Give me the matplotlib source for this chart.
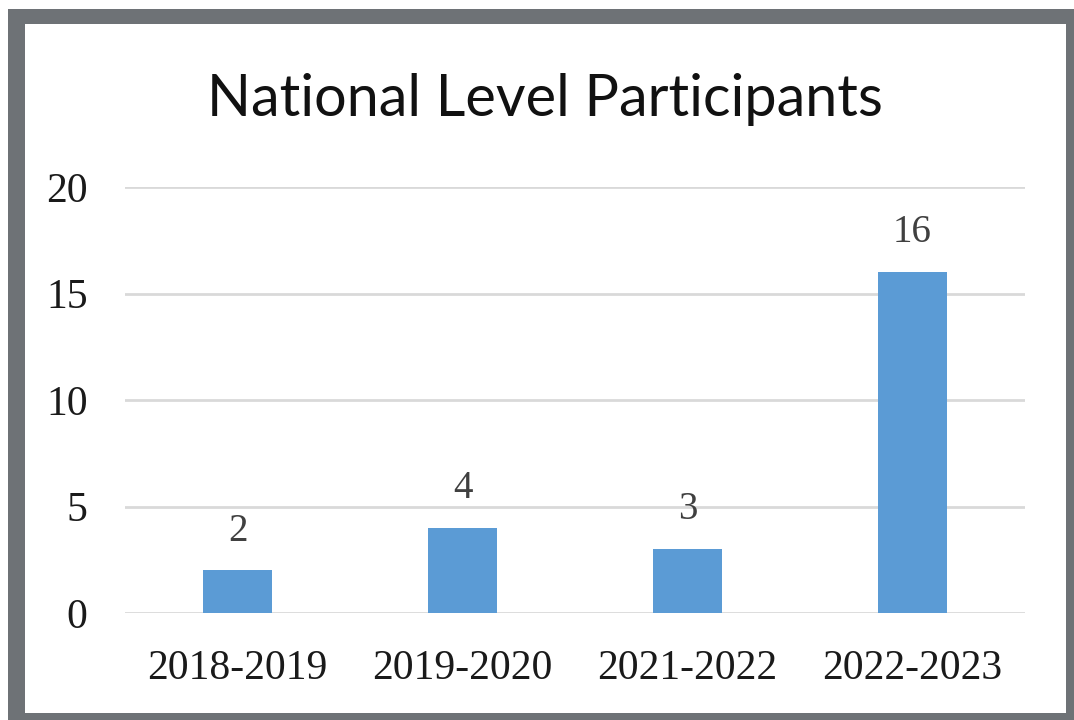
import matplotlib.pyplot as plt
from matplotlib.patches import Rectangle

seasons = ["2018-2019", "2019-2020", "2021-2022", "2022-2023"]
participants = [2, 4, 3, 16]
y_ticks = [0, 5, 10, 15, 20]

fig = plt.figure(figsize=(10.74, 7.2), dpi=100)

# grey frame round the white chart area
fig.patches.append(Rectangle((8/1074, 0), 1.0, 711/720, transform=fig.transFigure,
                             facecolor="#6e7276", edgecolor="none", zorder=0))
fig.patches.append(Rectangle((25/1074, 7/720), 1041/1074, 689/720, transform=fig.transFigure,
                             facecolor="white", edgecolor="none", zorder=1))

ax = fig.add_axes([125/1074, 107/720, 900/1074, 426/720])
ax.set_facecolor("none")
ax.set_zorder(2)

x = range(len(seasons))
bars = ax.bar(x, participants, width=0.31, color="#5b9bd5", zorder=3)

ax.set_xlim(-0.5, len(seasons) - 0.5)
ax.set_ylim(0, 20)
ax.set_yticks(y_ticks)
ax.set_xticks(list(x))
ax.set_xticklabels(seasons)

for s in ax.spines.values():
    s.set_visible(False)
ax.grid(axis="y", color="#d9d9d9", linewidth=2, zorder=0)
ax.set_axisbelow(True)
ax.tick_params(length=0)
ax.tick_params(axis="y", pad=27)
ax.tick_params(axis="x", pad=26)
for lab in ax.get_xticklabels() + ax.get_yticklabels():
    lab.set_fontfamily("Liberation Serif")
    lab.set_fontsize(30)
    lab.set_color("#1a1a1a")

for b, v in zip(bars, participants):
    ax.annotate(str(v), (b.get_x() + b.get_width()/2, v), xytext=(0, 15),
                textcoords="offset points", ha="center", va="bottom",
                fontfamily="Liberation Serif", fontsize=28, color="#404040")

fig.text(545/1074, 1 - 100/720, "National Level Participants", ha="center", va="center",
         fontfamily="Lato", fontsize=41.5, color="#111111")

fig.savefig("out.png", dpi=100)
